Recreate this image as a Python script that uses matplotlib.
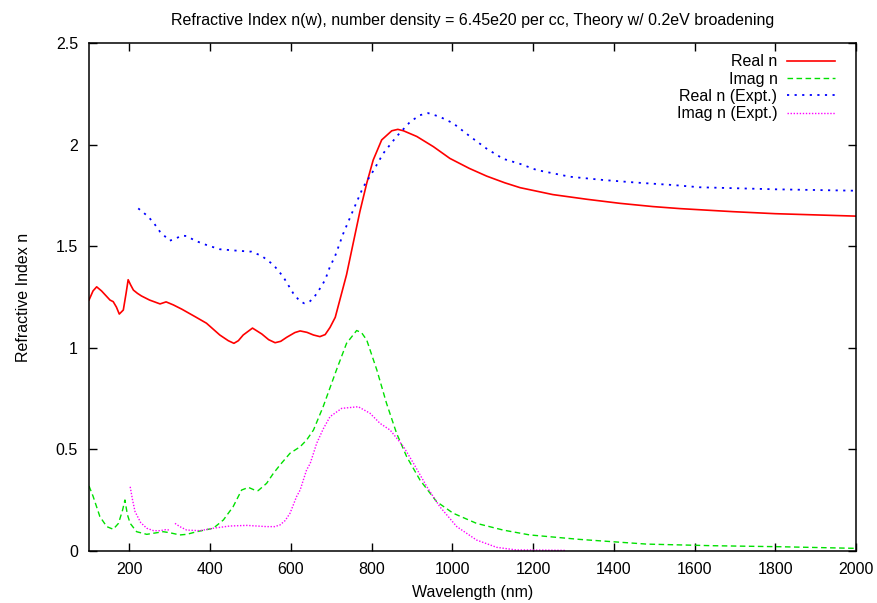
import matplotlib
matplotlib.use("Agg")
import matplotlib.pyplot as plt
import numpy as np
from matplotlib.ticker import FormatStrFormatter

plt.rcParams["font.family"] = ["Liberation Sans", "DejaVu Sans"]

# ---------------------------------------------------------------- data --
TITLE = "Refractive Index n(w), number density = 6.45e20 per cc, Theory w/ 0.2eV broadening"

# theory, real part
real_wl = [100, 110, 119, 131, 145, 152, 160, 168, 175, 185, 192, 197, 203, 210,
           220, 230, 250, 276, 291, 309, 330, 363, 391, 424, 445, 459, 470, 482,
           505, 528, 545, 561, 575, 590, 610, 623, 640, 656, 672, 685, 697, 710,
           722, 738, 755, 771, 788, 804, 825, 850, 865, 879, 912, 953, 994, 1042,
           1085, 1130, 1168, 1249, 1333, 1415, 1497, 1564, 1695, 1800, 2000]
real_n = [1.235, 1.28, 1.30, 1.28, 1.25, 1.235, 1.227, 1.20, 1.166, 1.186, 1.27,
          1.335, 1.31, 1.284, 1.268, 1.255, 1.235, 1.216, 1.226, 1.211, 1.19,
          1.153, 1.121, 1.063, 1.035, 1.022, 1.035, 1.063, 1.097, 1.068, 1.04,
          1.025, 1.032, 1.052, 1.075, 1.083, 1.076, 1.063, 1.055, 1.065, 1.10,
          1.15, 1.24, 1.36, 1.52, 1.67, 1.81, 1.924, 2.023, 2.068, 2.075, 2.068,
          2.04, 1.99, 1.932, 1.883, 1.845, 1.812, 1.788, 1.754, 1.731, 1.711,
          1.695, 1.685, 1.670, 1.66, 1.648]

# theory, imaginary part
imag_wl = [100, 110, 127, 144, 160, 173, 183, 189, 195, 202, 218, 243, 284, 300,
           325, 342, 367, 408, 433, 457, 478, 495, 510, 519, 540, 556, 573, 598,
           623, 639, 656, 680, 713, 738, 763, 775, 788, 813, 837, 862, 887, 920,
           961, 1002, 1060, 1126, 1192, 1316, 1481, 1646, 1812, 2000]
imag_n = [0.32, 0.27, 0.169, 0.12, 0.107, 0.136, 0.20, 0.251, 0.18, 0.136, 0.095,
          0.082, 0.095, 0.09, 0.079, 0.082, 0.095, 0.112, 0.153, 0.218, 0.30,
          0.313, 0.30, 0.297, 0.333, 0.38, 0.423, 0.481, 0.513, 0.546, 0.595,
          0.71, 0.891, 1.022, 1.085, 1.075, 1.038, 0.891, 0.727, 0.579, 0.464,
          0.349, 0.243, 0.186, 0.136, 0.103, 0.079, 0.057, 0.034, 0.026, 0.021,
          0.013]

# experiment, real part
real_expt_wl = [222, 235, 247, 262, 276, 290, 300, 317, 330, 342, 363, 391, 424,
                466, 503, 528, 557, 581, 606, 622, 633, 645, 656, 670, 685, 697,
                709, 730, 755, 779, 804, 829, 862, 896, 920, 940, 969, 1002, 1044,
                1085, 1126, 1168, 1209, 1291, 1373, 1456, 1547, 1613, 1800, 2000]
real_expt_n = [1.686, 1.665, 1.645, 1.61, 1.571, 1.545, 1.527, 1.54, 1.552, 1.550,
               1.527, 1.506, 1.485, 1.478, 1.473, 1.452, 1.408, 1.350, 1.268,
               1.23, 1.219, 1.225, 1.244, 1.285, 1.334, 1.40, 1.448, 1.563, 1.68,
               1.79, 1.87, 1.957, 2.04, 2.113, 2.145, 2.155, 2.137, 2.105, 2.04,
               1.98, 1.93, 1.905, 1.875, 1.842, 1.826, 1.813, 1.801, 1.79, 1.78,
               1.773]

# experiment, imaginary part (nan = gap in the measured data)
imag_expt_wl = [202, 208, 214, 228, 243, 260, 276, 290, 301, 307, 313, 325, 342,
                375, 408, 449, 491, 540, 560, 573, 586, 598, 614, 623, 639, 648,
                664, 680, 697, 726, 767, 796, 821, 846, 879, 904, 937, 969, 1011,
                1060, 1110, 1159, 1192, 1280]
imag_expt_n = [0.316, 0.25, 0.194, 0.14, 0.112, 0.10, 0.10, 0.105, 0.103, np.nan,
               0.136, 0.12, 0.103, 0.10, 0.112, 0.123, 0.126, 0.12, 0.12, 0.128,
               0.15, 0.186, 0.267, 0.30, 0.399, 0.431, 0.53, 0.60, 0.661, 0.702,
               0.71, 0.678, 0.628, 0.595, 0.514, 0.431, 0.316, 0.218, 0.12, 0.054,
               0.018, 0.005, 0.005, 0.003]

x_ticks = [200, 400, 600, 800, 1000, 1200, 1400, 1600, 1800, 2000]
y_ticks = [0, 0.5, 1, 1.5, 2, 2.5]

# ---------------------------------------------------------------- plot --
FS = 11.5
fig = plt.figure(figsize=(8.78, 6.03), dpi=100)
ax = fig.add_axes([89 / 878, 52 / 603, 767 / 878, 508 / 603])

ax.plot(real_wl, real_n, color="#ff0000", lw=1.2, label="Real n")
ax.plot(imag_wl, imag_n, color="#00e000", lw=1.0, ls=(0, (4, 2.5)), label="Imag n")
ax.plot(real_expt_wl, real_expt_n, color="#0000ff", lw=1.3, ls=(0, (1.2, 3)),
        label="Real n (Expt.)")
ax.plot(imag_expt_wl, imag_expt_n, color="#ff00ff", lw=1.0, ls=(0, (1, 1.2)),
        label="Imag n (Expt.)")

ax.set_xlim(100, 2000)
ax.set_ylim(0, 2.5)
ax.set_xticks(x_ticks)
ax.set_yticks(y_ticks)
ax.yaxis.set_major_formatter(FormatStrFormatter("%g"))
ax.tick_params(direction="in", length=6, width=1, top=True, right=True,
               labelsize=FS, pad=8, colors="black")
for s in ax.spines.values():
    s.set_linewidth(1.1)

ax.set_title(TITLE, fontsize=FS, pad=13)
ax.set_xlabel("Wavelength (nm)", fontsize=FS, labelpad=6)
ax.set_ylabel("Refractive Index n", fontsize=FS, labelpad=18)

# gnuplot-style key: labels right-aligned, sample line on the right
ax.legend(loc="upper right", frameon=False, markerfirst=False, fontsize=FS,
          handlelength=3.0, handletextpad=0.6, labelspacing=0.15,
          borderaxespad=0, borderpad=0, bbox_to_anchor=(0.9726, 0.978))

fig.savefig("out.png", dpi=100)
